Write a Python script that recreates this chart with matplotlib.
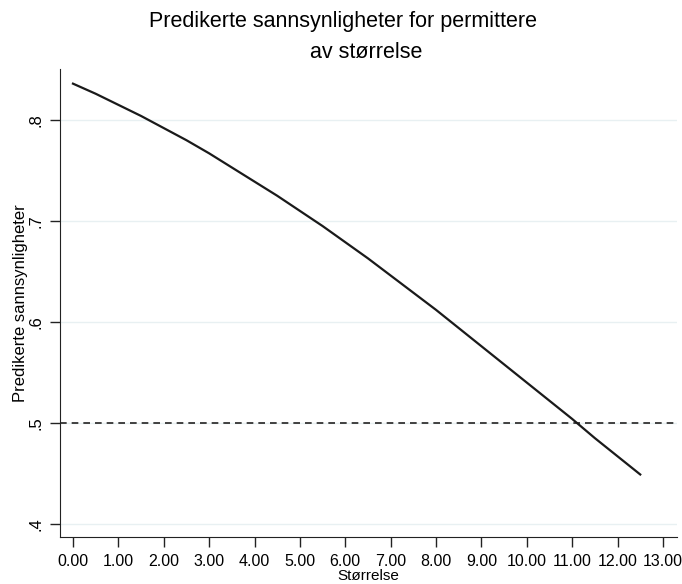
import matplotlib
matplotlib.use("Agg")
import matplotlib.pyplot as plt

# Data
storrelse = [0.0, 0.5, 1.0, 1.5, 2.0, 2.5, 3.0, 3.5, 4.0, 4.5, 5.0, 5.5, 6.0,
             6.5, 7.0, 7.5, 8.0, 8.5, 9.0, 9.5, 10.0, 10.5, 11.0, 11.5, 12.0, 12.5]
pred_prob = [0.836, 0.826, 0.815, 0.804, 0.792, 0.780, 0.767, 0.753, 0.739,
             0.725, 0.710, 0.695, 0.679, 0.663, 0.646, 0.629, 0.612, 0.594,
             0.576, 0.558, 0.540, 0.522, 0.504, 0.485, 0.467, 0.449]
x_ticks = [0, 1, 2, 3, 4, 5, 6, 7, 8, 9, 10, 11, 12, 13]
x_ticklabels = ["0.00", "1.00", "2.00", "3.00", "4.00", "5.00", "6.00", "7.00",
                "8.00", "9.00", "10.00", "11.00", "12.00", "13.00"]
y_ticks = [0.4, 0.5, 0.6, 0.7, 0.8]
y_ticklabels = [".4", ".5", ".6", ".7", ".8"]
ref_level = 0.5

plt.rcParams['font.family'] = ['Liberation Sans', 'DejaVu Sans']

fig = plt.figure(figsize=(6.82, 5.84), dpi=100)
ax = fig.add_axes([60/682, 47/584, 617/682, 468/584])

ax.set_xlim(-0.286, 13.31)
ax.set_ylim(0.3871, 0.8505)

for yv in y_ticks:
    ax.axhline(yv, color="#e8f0f2", lw=1.0, zorder=0)

ax.axhline(ref_level, color="#222222", lw=1.2, ls=(0, (4, 3)), zorder=2)
ax.plot(storrelse, pred_prob, color="#1a1a1a", lw=1.6, zorder=3,
        solid_joinstyle="round")

ax.spines['top'].set_visible(False)
ax.spines['right'].set_visible(False)
ax.spines['left'].set_color("#222222")
ax.spines['bottom'].set_color("#222222")

ax.set_xticks(x_ticks)
ax.set_xticklabels(x_ticklabels, fontsize=11.5)
ax.set_yticks(y_ticks)
ax.set_yticklabels(y_ticklabels, fontsize=12, rotation=90, va="center")
ax.tick_params(axis='both', direction='out', length=7, width=1, color="#222222", pad=5)

ax.set_xlabel("Størrelse", fontsize=11, labelpad=0)
ax.set_ylabel("Predikerte sannsynligheter", fontsize=12, labelpad=0)

fig.text(343/682, 1 - 22/584, "Predikerte sannsynligheter for permittere",
         ha="center", va="center", fontsize=15.5)
fig.text(366/682, 1 - 52/584, "av størrelse",
         ha="center", va="center", fontsize=15.5)

fig.savefig("out.png", dpi=100)
